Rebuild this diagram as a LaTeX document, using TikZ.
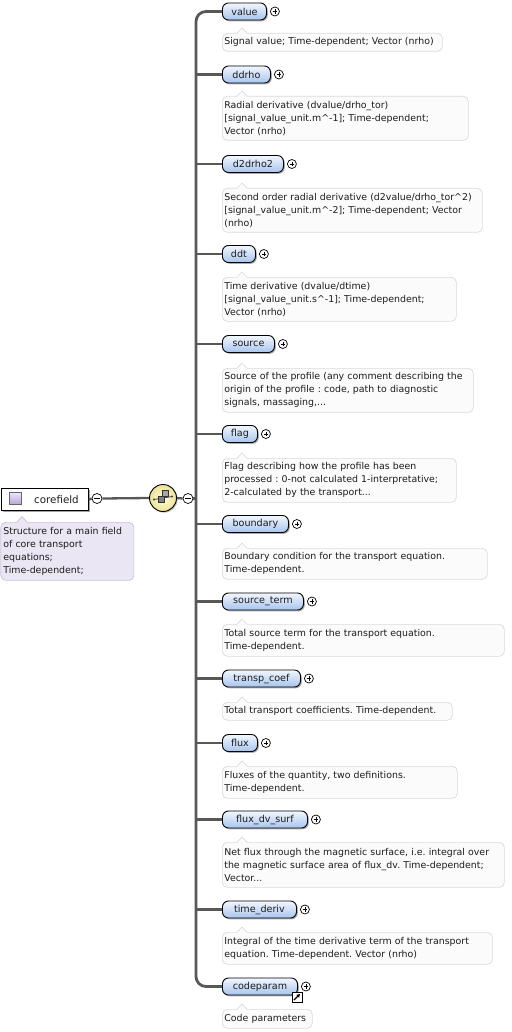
\documentclass[tikz,border=0pt]{standalone}
\usepackage{fontspec}
\setmainfont{DejaVu Sans}
\usetikzlibrary{shadows,arrows.meta}
\frenchspacing
\definecolor{pilltop}{RGB}{242,247,255}
\definecolor{pillbot}{RGB}{168,196,238}
\definecolor{descfill}{RGB}{251,251,251}
\definecolor{descline}{RGB}{218,218,218}
\definecolor{cfill}{RGB}{234,230,243}
\definecolor{cline}{RGB}{198,192,218}
\definecolor{linec}{RGB}{88,88,88}
\definecolor{txt}{RGB}{28,28,28}
\definecolor{seqin}{RGB}{255,253,222}
\definecolor{seqout}{RGB}{238,226,150}
\definecolor{icontop}{RGB}{236,230,250}
\definecolor{iconbot}{RGB}{178,164,220}
\newcommand\xelem[8]{%
  \node[pill, minimum width=#3] (#1) at (222,#2) {#4};
  \node[plusc] (#1p) at ([xshift=8pt]#1.east) {};
  \node[desc, text width=#7, minimum height=#6] (#1d) at (222,#5) {#8};
  \fill[descfill] (237,#5+0.8) -- (242,#5-5) -- (247,#5+0.8) -- cycle;
  \draw[descline, line width=0.7pt] (237,#5) -- (242,#5-5) -- (247,#5);
}
\begin{document}
\begin{tikzpicture}[x=1pt,y=-1pt,
  pill/.style={draw=black, line width=0.9pt, rounded corners=6pt, top color=pilltop, bottom color=pillbot,
    minimum height=17pt, inner sep=0pt, anchor=west, font=\fontsize{9.6}{11}\selectfont, text=txt,
    drop shadow={shadow xshift=1.3pt, shadow yshift=-1.3pt, fill=black!60, opacity=0.55}},
  plusc/.style={circle, draw=black, line width=0.7pt, fill=white, minimum size=9pt, inner sep=0pt,
    path picture={\draw[line width=0.7pt] (path picture bounding box.center) +(-2.4,0) -- +(2.4,0)
      (path picture bounding box.center) +(0,-2.4) -- +(0,2.4);}},
  minusc/.style={circle, draw=black, line width=0.7pt, fill=white, minimum size=10pt, inner sep=0pt,
    path picture={\draw[line width=0.7pt] (path picture bounding box.center) +(-2.6,0) -- +(2.6,0);}},
  desc/.style={draw=descline, line width=0.7pt, fill=descfill, rounded corners=5pt, anchor=north west,
    inner xsep=2pt, inner ysep=0pt, align=left, font=\fontsize{9.4}{13}\selectfont, text=txt},
  branch/.style={draw=linec, line width=2.3pt},
  trunk/.style={draw=linec, line width=2.8pt, rounded corners=10pt},
]
\useasboundingbox (0,0) rectangle (511,1032);

% root element
\node[draw=black, line width=1pt, fill=white, anchor=north west, minimum width=87.5, minimum height=22,
  text width=68pt, align=right, inner xsep=0pt, inner ysep=0pt, font=\fontsize{10.3}{12}\selectfont, text=txt,
  drop shadow={shadow xshift=1.5pt, shadow yshift=-1.5pt, fill=black!60, opacity=0.6}] (corefield) at (0.5,488) {corefield};
\node[draw=black!60, line width=0.6pt, top color=icontop, bottom color=iconbot, minimum size=12.5pt, inner sep=0pt] (cicon) at (15.5,498.5) {};
\node[draw=cline, line width=0.7pt, fill=cfill, rounded corners=5pt, anchor=north west, inner xsep=2.5pt, inner ysep=0pt,
  text width=128pt, minimum height=58pt, align=left, font=\fontsize{9.4}{13}\selectfont, text=txt] (corefieldd) at (0.5,522)
  {Structure for a main field\\of core transport\\equations;\\Time-dependent;};
\fill[cfill] (17,522.8) -- (22,516.5) -- (27,522.8) -- cycle;
\draw[cline, line width=0.7pt] (17,522) -- (22,516.5) -- (27,522);

\node[minusc] (m1) at (97,498.5) {};
\node[circle, draw=black, line width=0.9pt, inner color=seqin, outer color=seqout, minimum size=27pt, inner sep=0pt,
  drop shadow={shadow xshift=1.2pt, shadow yshift=-1.2pt, fill=black!50, opacity=0.5}] (seq) at (163,498) {};
\node[minusc] (m2) at (188,498.5) {};
\coordinate (bar) at (196,498.5);

% sequence glyph
\draw[black!75, line width=0.8pt] ([xshift=-9pt,yshift=-1.5pt]seq.center) -- ([xshift=9pt,yshift=1.5pt]seq.center);
\fill[black!75] ([xshift=-9pt,yshift=-1.5pt]seq.center) circle (1.1pt) ([xshift=9pt,yshift=1.5pt]seq.center) circle (1.1pt);
\filldraw[fill=black!35, draw=black!80, line width=0.5pt] ([shift={(-1,-2)}]seq.center) rectangle ++(6,-6);
\filldraw[fill=black!50, draw=black!80, line width=0.5pt] ([shift={(-5,4)}]seq.center) rectangle ++(6,-6);

\draw[branch] (corefield.east) -- (m1.west);
\draw[branch] (m1.east) -- (seq.west);
\draw[branch] (seq.east) -- (m2.west);
\draw[branch] (m2.east) -- (bar);

% children
\xelem{value}{11.5}{44}{value}{33}{18}{216pt}{Signal value; Time-dependent; Vector (nrho)}
\xelem{ddrho}{74.5}{48}{ddrho}{96}{44}{242pt}{Radial derivative (dvalue/drho\_tor)\\{}[signal\_value\_unit.m\textasciicircum{}-1]; Time-dependent;\\Vector (nrho)}
\xelem{d2drho2}{164}{61}{d2drho2}{188}{44}{256pt}{Second order radial derivative (d2value/drho\_tor\textasciicircum{}2)\\{}[signal\_value\_unit.m\textasciicircum{}-2]; Time-dependent; Vector\\(nrho)}
\xelem{ddt}{254}{33}{ddt}{277}{44}{230pt}{Time derivative (dvalue/dtime)\\{}[signal\_value\_unit.s\textasciicircum{}-1]; Time-dependent;\\Vector (nrho)}
\xelem{source}{344}{52}{source}{368}{44}{247pt}{Source of the profile (any comment describing the\\origin of the profile : code, path to diagnostic\\signals, massaging,...}
\xelem{flag}{434}{35}{flag}{458}{44}{230pt}{Flag describing how the profile has been\\processed : 0-not calculated 1-interpretative;\\2-calculated by the transport...}
\xelem{boundary}{524}{66}{boundary}{548}{31}{261pt}{Boundary condition for the transport equation.\\Time-dependent.}
\xelem{source_term}{601.5}{81}{source\_term}{624}{32}{278pt}{Total source term for the transport equation.\\Time-dependent.}
\xelem{transp_coef}{678.5}{78}{transp\_coef}{702}{18}{226pt}{Total transport coefficients. Time-dependent.}
\xelem{flux}{743}{35}{flux}{766}{32}{231pt}{Fluxes of the quantity, two definitions.\\Time-dependent.}
\xelem{flux_dv_surf}{819.5}{85}{flux\_dv\_surf}{842}{45}{278pt}{Net flux through the magnetic surface, i.e. integral over\\the magnetic surface area of flux\_dv. Time-dependent;\\Vector...}
\xelem{time_deriv}{909.5}{74}{time\_deriv}{932}{32}{266pt}{Integral of the time derivative term of the transport\\equation. Time-dependent. Vector (nrho)}
\xelem{codeparam}{986.5}{75}{codeparam}{1009}{19}{86pt}{Code parameters}

% reference (link) mark on codeparam
\node[draw=black, line width=0.8pt, fill=white, minimum size=10pt, inner sep=0pt] (cplink) at (297,997) {};
\draw[black, line width=1.3pt, -{Triangle[length=3.2pt,width=3.6pt]}] ([shift={(-3,3)}]cplink.center) -- ([shift={(3,-3)}]cplink.center);

% trunk and branches
\draw[trunk] (value.west) -| (bar) |- (codeparam.west);
\foreach \n in {ddrho,d2drho2,ddt,source,flag,boundary,source_term,transp_coef,flux,flux_dv_surf,time_deriv}
  \draw[branch] (bar |- \n.west) -- (\n.west);
\end{tikzpicture}
\end{document}
